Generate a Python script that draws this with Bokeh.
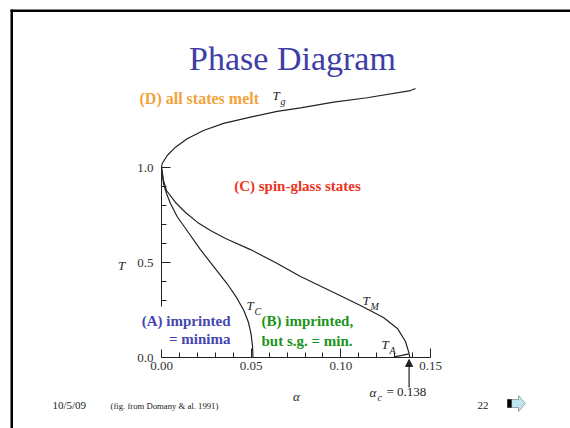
from bokeh.plotting import figure
from bokeh.models import Range1d, Label, Arrow, NormalHead, PolyAnnotation, FixedTicker, BoxAnnotation
from bokeh.embed import file_html
from bokeh.resources import INLINE

# ---------------- data ----------------
alpha_tg = [0.0, 0.0004, 0.0032, 0.0078, 0.0143, 0.0234, 0.0346, 0.0496, 0.0645, 0.0775, 0.096, 0.1146, 0.1388, 0.1416]
t_tg = [1.0, 1.021, 1.063, 1.107, 1.151, 1.195, 1.232, 1.265, 1.295, 1.314, 1.344, 1.367, 1.405, 1.416]

alpha_tm = [0.0, 0.0011, 0.0028, 0.0078, 0.0134, 0.0201, 0.0273, 0.0357, 0.0496, 0.0635, 0.0775,
            0.096, 0.1109, 0.1237, 0.1315, 0.136, 0.1378, 0.1384]
t_tm = [1.0, 0.932, 0.879, 0.816, 0.763, 0.711, 0.668, 0.626, 0.568, 0.5, 0.426,
        0.342, 0.274, 0.211, 0.153, 0.084, 0.028, 0.0]

alpha_tc = [0.0, 0.0011, 0.0028, 0.005, 0.0087, 0.015, 0.0217, 0.029, 0.0366, 0.0418, 0.0459,
            0.0485, 0.0499, 0.0507, 0.051]
t_tc = [1.0, 0.916, 0.863, 0.811, 0.742, 0.658, 0.568, 0.479, 0.388, 0.316, 0.247,
        0.184, 0.126, 0.063, 0.0]

alpha_ta = [0.1295, 0.134, 0.1378]
t_ta = [0.003, 0.011, 0.019]

alpha_c = 0.138

x_ticks = [0.0, 0.05, 0.10, 0.15]
x_tick_labels = ["0.00", "0.05", "0.10", "0.15"]
x_minor = [0.01, 0.02, 0.03, 0.04, 0.06, 0.07, 0.08, 0.09, 0.11, 0.12, 0.13, 0.14]
y_ticks = [0.0, 0.5, 1.0]
y_tick_labels = ["0.0", "0.5", "1.0"]
y_minor = [0.1, 0.2, 0.3, 0.4, 0.6, 0.7, 0.8, 0.9]

SERIF = "Liberation Serif"
INK = "#222222"

# page-pixel -> data helpers (alpha = 0 at x=161 px, T = 0 at y=357 px)
def px(x):
    return (x - 161) / 1794.0

def py(y):
    return (357 - y) / 190.0

# ---------------- figure: frame covers the whole slide ----------------
p = figure(width=570, height=428, output_backend="svg", toolbar_location=None,
           x_range=Range1d(px(0), px(570)), y_range=Range1d(py(428), py(0)),
           min_border=0)
p.outline_line_color = None
p.grid.visible = False
p.background_fill_color = "white"
p.border_fill_color = "white"

for ax, ticks, minor, labels, bounds in ((p.xaxis[0], x_ticks, x_minor, x_tick_labels, (0, 0.15)),
                                          (p.yaxis[0], y_ticks, y_minor, y_tick_labels, (0, 1.0))):
    ax.fixed_location = 0
    ax.ticker = FixedTicker(ticks=ticks, minor_ticks=minor)
    ax.major_label_overrides = {t: l for t, l in zip(ticks, labels)}
    ax.bounds = bounds
    ax.major_tick_in = 9
    ax.major_tick_out = 0
    ax.minor_tick_in = 5
    ax.minor_tick_out = 0
    ax.axis_line_color = INK
    ax.major_tick_line_color = INK
    ax.minor_tick_line_color = INK
    ax.major_label_text_font = SERIF
    ax.major_label_text_font_size = "13px"
    ax.major_label_text_color = "#333333"
p.xaxis[0].major_label_standoff = 4
p.yaxis[0].major_label_standoff = 8

for xs, ys in ((alpha_tg, t_tg), (alpha_tm, t_tm), (alpha_tc, t_tc), (alpha_ta, t_ta)):
    p.line(xs, ys, line_color=INK, line_width=1.2)

# white box behind the (A) label (hides the axis there, as on the slide)
p.add_layout(BoxAnnotation(left=px(135), right=px(233), top=py(306), bottom=py(349),
                           fill_color="white", fill_alpha=1, line_color=None))

def lab(x, y, text, size, color=INK, style="normal", align="left", baseline="middle", font=SERIF):
    p.add_layout(Label(x=px(x), y=py(y), text=text, text_font=font, text_font_size=size,
                       text_color=color, text_font_style=style, text_align=align,
                       text_baseline=baseline))

# title
lab(292, 58, "Phase Diagram", "34px", color="#3E3EA6", align="center")

# region labels
lab(139, 98, "(D) all states melt", "16px", color="#F2A23A", style="bold")
lab(297, 185, "(C) spin-glass states", "15px", color="#EE3322", style="bold", align="center")
lab(230, 320, "(A) imprinted", "15px", color="#4646AE", style="bold", align="right")
lab(230, 338, "= minima", "15px", color="#4646AE", style="bold", align="right")
lab(261, 320, "(B) imprinted,", "15px", color="#1A941A", style="bold")
lab(261, 340, "but s.g. = min.", "15px", color="#1A941A", style="bold")

# curve names
for (x, y, sub) in ((272, 95, "g"), (246, 305, "C"), (362, 300, "M"), (381, 344, "A")):
    lab(x, y, "T", "13px", style="italic")
    lab(x + 8, y + 6, sub, "10px", style="italic")

# axis names
lab(121, 265, "T", "13px", style="italic", align="center")
lab(296, 396, "\u03b1", "13px", style="italic", align="center")

# alpha_c marker
p.add_layout(Arrow(end=NormalHead(size=7, fill_color=INK, line_color=INK),
                   x_start=alpha_c, y_start=py(387), x_end=alpha_c, y_end=py(359),
                   line_color=INK, line_width=1.2))
lab(369, 392, "\u03b1", "13px", style="italic")
lab(377, 397, "c", "10px", style="italic")
lab(386, 391, "= 0.138", "13px")

# footer
lab(52, 404, "10/5/09", "11px")
lab(110, 405, "(fig. from Domany & al. 1991)", "8.7px")
lab(477, 405, "22", "11px")

# slide frame and nav arrow icon
p.add_layout(PolyAnnotation(xs=[px(10), px(12.5), px(12.5), px(10)], ys=[py(9), py(9), py(440), py(440)],
                            fill_color="black", fill_alpha=1, line_color=None))
p.add_layout(PolyAnnotation(xs=[px(10), px(580), px(580), px(10)], ys=[py(9), py(9), py(11.5), py(11.5)],
                            fill_color="black", fill_alpha=1, line_color=None))
p.add_layout(PolyAnnotation(xs=[px(507), px(518), px(518), px(525), px(518), px(518), px(507)],
                            ys=[py(399), py(399), py(395), py(403), py(411), py(407), py(407)],
                            fill_color="#BFE6EE", fill_alpha=1, line_color="black", line_width=1))
p.add_layout(PolyAnnotation(xs=[px(507), px(511), px(511), px(507)], ys=[py(399), py(399), py(407), py(407)],
                            fill_color="black", fill_alpha=1, line_color="black"))

open("out.html", "w").write(file_html(p, INLINE))
